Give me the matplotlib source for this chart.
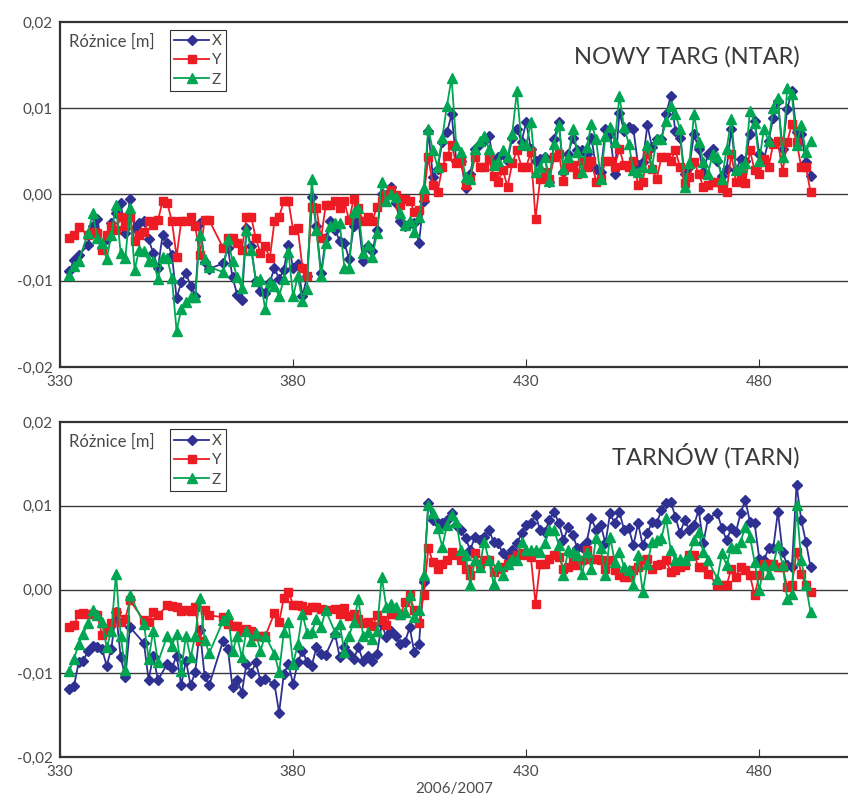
import matplotlib
matplotlib.use('Agg')
import matplotlib.pyplot as plt
from matplotlib.ticker import FuncFormatter

plt.rcParams['font.family'] = ['Lato', 'DejaVu Sans']

# dni (oś X) i różnice w mm
days_top = [332, 333, 334] + list(range(336, 363)) + list(range(365, 492))
ntar_x = [-8.9, -7.6, -7.0,
          -5.9, -3.7, -2.8, -6.2, -5.2, -3.3, -2.2, -1.0, -4.5, -0.5, -3.9, -3.3, -3.1, -5.2,
          -6.8, -8.5, -4.7, -5.6, -7.0, -12.0, -10.2, -9.1, -10.6, -11.8, -3.3, -7.8, -8.6,
          -8.0, -6.2, -9.6, -11.6, -12.2, -3.9,
          -6.0, -10.0, -11.2, -11.4, -10.2, -8.5, -9.8, -8.7, -5.8, -8.5,
          -8.1, -11.8, -9.5, -0.3, -3.7, -9.1, -5.1, -3.1, -4.1, -5.4,
          -5.6, -7.5, -3.7, -3.0, -7.7, -6.0, -6.6, -4.1, 0.1, -0.1,
          0.9, -1.0, -3.1, -3.7, -3.3, -3.3, -5.6, -0.7, 7.4, 2.0, 3.0,
          6.1, 7.2, 9.3, 3.9, 3.9, 0.7, 2.4, 5.3, 5.9, 6.2,
          6.8, 3.9, 4.3, 4.7, 3.9, 6.6, 7.6, 6.1, 8.4, 5.3,
          3.9, 4.1, 4.3, 1.5, 6.4, 8.4, 2.6, 4.7, 6.6, 5.1,
          5.1, 4.7, 6.6, 3.0, 2.6, 7.6, 7.0, 2.4, 9.5, 7.4,
          7.8, 7.6, 3.4, 3.8, 8.0, 5.5, 6.4, 6.4, 9.3, 11.4,
          7.4, 6.6, 2.4, 3.2, 7.0, 5.3, 2.6, 4.7, 5.3, 3.9,
          2.2, 3.0, 7.6, 2.8, 4.1, 3.9, 7.0, 8.5, 4.7, 4.1,
          6.2, 8.9, 10.8, 5.3, 9.9, 12.0, 7.2, 7.0, 3.8, 2.2]
ntar_y = [-5.1, -4.7, -3.8,
          -4.7, -4.3, -4.5, -6.4, -4.7, -3.7, -4.1, -2.6, -3.7, -2.6, -5.4, -4.7, -4.3, -3.1,
          -3.5, -3.0, -0.8, -1.0, -3.1, -7.2, -3.1, -3.1, -2.6, -3.7, -7.0, -3.0, -3.0,
          -6.2, -5.1, -5.1, -5.6, -6.4, -2.6,
          -2.6, -5.1, -6.8, -6.0, -7.4, -3.1, -2.6, -0.8, -0.8, -4.1,
          -3.9, -8.5, -9.5, -1.4, -1.6, -5.1, -1.2, -1.2, -0.8, -1.6,
          -0.8, -3.0, -0.5, -1.6, -3.1, -2.6, -3.1, -1.4, -0.8, -0.1,
          0.5, -0.1, -1.2, -0.5, -0.7, -2.0, -1.8, -0.3, 4.3, 1.1, 0.3,
          3.2, 4.5, 5.7, 3.6, 3.9, 1.1, 1.8, 4.3, 3.2, 3.2,
          4.1, 2.2, 1.5, 2.8, 0.9, 3.6, 5.1, 3.2, 3.2, 4.9,
          -2.8, 1.8, 2.6, 1.8, 4.3, 4.7, 1.6, 3.2, 3.4, 2.4,
          3.9, 3.2, 3.9, 1.5, 1.8, 3.9, 3.9, 3.2, 5.3, 3.4,
          3.2, 3.9, 1.1, 1.5, 4.7, 3.0, 1.8, 4.3, 4.3, 3.9,
          5.1, 3.2, 1.3, 2.0, 3.8, 2.4, 0.9, 1.1, 1.5, 1.5,
          0.7, 0.3, 4.7, 1.5, 2.2, 1.3, 5.1, 2.8, 2.4, 4.1,
          3.2, 5.9, 6.2, 2.6, 6.1, 8.2, 6.1, 3.2, 3.2, 0.3]
ntar_z = [-9.3, -8.3, -7.7,
          -4.5, -2.2, -5.1, -5.6, -7.5, -4.7, -1.2, -6.8, -7.4, -1.6, -8.7, -6.4, -6.6, -7.7,
          -7.7, -9.8, -7.2, -7.4, -9.7, -15.8, -13.3, -12.5, -11.9, -11.9, -4.7, -7.5, -8.4,
          -9.0, -5.2, -7.7, -9.6, -10.8, -4.1,
          -6.4, -10.0, -9.8, -13.3, -10.2, -10.6, -11.8, -9.8, -6.7, -11.8,
          -9.5, -12.3, -10.9, 1.8, -4.1, -9.5, -5.6, -3.7, -3.3, -3.3,
          -8.5, -8.5, -2.0, -1.6, -6.8, -5.8, -7.2, -4.5, 1.5, -0.8,
          0.1, -0.3, -2.2, -3.5, -3.1, -4.3, -2.6, 0.7, 7.6, 5.1, 3.2,
          6.6, 10.3, 13.5, 5.7, 4.9, 2.0, 1.8, 5.3, 6.2, 6.8,
          5.3, 3.4, 3.9, 5.1, 4.3, 7.0, 12.0, 5.9, 5.7, 8.4,
          2.6, 3.2, 4.3, 1.6, 5.9, 8.0, 3.0, 4.3, 7.6, 4.9,
          2.6, 5.5, 8.2, 6.4, 1.8, 6.8, 7.8, 6.1, 11.4, 7.8,
          5.9, 2.8, 2.6, 3.2, 5.7, 3.2, 6.4, 6.4, 8.5, 10.3,
          9.3, 7.6, 0.9, 3.6, 9.3, 6.1, 3.8, 2.4, 4.7, 4.3,
          1.8, 5.3, 8.7, 2.8, 3.2, 3.6, 9.7, 8.3, 3.9, 7.6,
          6.2, 10.0, 11.2, 4.3, 12.3, 11.6, 5.7, 8.0, 4.9, 6.2]

days_bot = (list(range(332, 346)) + list(range(348, 352)) + list(range(353, 363))
            + list(range(365, 375)) + list(range(376, 388)) + list(range(389, 470))
            + list(range(471, 492)))
tarn_x = [-11.9, -11.5, -8.7, -8.5, -7.3, -6.7, -6.9, -7.1, -9.1, -7.1, -2.7, -8.0, -10.5, -4.5,
          -6.4, -10.8, -7.9, -10.8,
          -8.9, -9.4, -7.9, -11.4, -8.5, -11.4, -9.9, -4.8, -10.3, -11.4,
          -6.1, -7.1, -11.7, -10.8, -12.3, -8.9, -10.0, -8.7, -10.9, -10.7,
          -11.3, -14.7, -10.1, -8.9, -11.3, -8.7, -7.3, -8.7, -9.1, -6.9, -7.7, -7.8,
          -5.3, -8.1, -6.9, -7.7, -8.3, -6.9, -8.5, -7.9, -8.5, -7.7,
          -4.1, -5.7, -4.9, -5.5, -6.5, -6.3, -4.5, -7.5, -6.5, 0.9, 10.3, 8.3, 7.9,
          7.9, 8.3, 9.1, 7.7, 7.1, 6.1, 4.7, 6.3, 5.9, 6.3,
          7.1, 5.7, 5.5, 4.3, 3.9, 4.7, 5.5, 6.7, 7.7, 7.9,
          8.9, 7.1, 6.9, 8.3, 9.3, 7.9, 5.9, 7.5, 6.5, 4.9,
          5.1, 5.7, 8.5, 7.1, 7.7, 5.5, 9.1, 7.9, 9.3, 7.1,
          7.3, 5.3, 7.9, 5.3, 6.7, 8.1, 7.9, 9.5, 10.3, 10.5,
          8.7, 6.7, 8.3, 7.1, 7.7, 9.5, 5.5, 8.5,
          9.1, 7.3, 5.9, 7.3, 6.9, 9.1, 10.7, 8.1, 7.9, 3.7,
          3.5, 4.9, 4.9, 9.3, 4.5, 2.9, 2.7, 12.5, 8.3, 5.7, 2.7]
tarn_y = [-4.5, -4.2, -2.9, -2.8, -2.9, -2.9, -3.1, -5.4, -4.7, -4.0, -2.7, -3.9, -3.5, -1.3,
          -3.7, -3.9, -2.7, -3.1,
          -1.9, -2.0, -2.1, -2.6, -2.4, -2.6, -2.1, -6.1, -2.4, -3.1,
          -3.3, -4.1, -4.4, -4.4, -4.9, -4.7, -4.9, -5.5, -5.6, -5.6,
          -2.8, -3.9, -1.0, -0.3, -1.8, -1.8, -2.0, -2.5, -2.1, -2.1, -2.3, -2.5,
          -2.3, -2.9, -2.2, -3.2, -2.9, -3.5, -4.0, -3.9, -4.4, -3.1,
          -3.6, -4.2, -2.9, -2.9, -3.1, -1.5, -0.7, -2.5, -4.0, -0.7, 4.9, 3.3, 2.4,
          3.1, 3.5, 4.5, 4.1, 3.5, 2.5, 1.7, 4.3, 3.1, 3.5,
          3.5, 2.1, 2.5, 2.7, 3.1, 3.7, 4.1, 4.3, 4.1, 3.9,
          -1.7, 3.1, 3.1, 3.7, 4.1, 3.9, 2.5, 2.7, 3.3, 2.9,
          3.5, 4.7, 3.7, 3.7, 3.5, 2.5, 3.5, 2.3, 1.7, 1.5,
          1.5, 2.3, 2.7, 3.5, 3.7, 2.5, 2.9, 3.1, 3.5, 2.1,
          2.3, 2.7, 2.9, 4.1, 4.1, 2.7, 2.7, 1.9,
          0.5, 0.5, 0.5, 2.5, 1.5, 2.7, 2.3, 1.7, -0.7, 1.7,
          3.1, 3.1, 3.1, 2.7, 2.7, 0.3, 0.5, 4.5, 1.9, 0.5, -0.3]
tarn_z = [-9.7, -8.3, -6.5, -5.3, -4.0, -2.4, -3.0, -3.9, -6.9, -5.0, 1.9, -5.5, -9.6, -0.7,
          -4.1, -8.3, -4.9, -8.7,
          -5.5, -6.7, -5.3, -9.7, -5.5, -8.1, -5.5, -1.0, -6.0, -7.6,
          -3.7, -2.9, -7.4, -5.6, -8.1, -4.9, -6.1, -5.2, -7.3, -5.5,
          -7.7, -9.9, -5.1, -3.9, -8.9, -6.5, -2.9, -5.2, -5.1, -3.5, -4.5, -2.5,
          -5.1, -4.1, -7.5, -5.5, -3.9, -1.1, -5.5, -5.1, -5.9, -4.9,
          1.5, -2.1, -1.7, -2.1, -2.9, -2.7, -0.7, -3.3, -2.5, 1.7, 10.1, 9.1, 7.3,
          5.1, 7.7, 8.9, 8.1, 4.7, 4.1, 0.5, 3.5, 2.7, 5.7,
          3.5, 0.7, 2.9, 1.7, 3.1, 3.7, 3.5, 5.7, 4.7, 4.7,
          4.7, 4.5, 5.5, 7.1, 7.1, 5.3, 1.7, 4.7, 4.5, 4.1,
          1.9, 4.5, 2.5, 6.1, 4.9, 1.7, 6.3, 3.3, 4.5, 2.7,
          2.3, 0.5, 4.1, -0.3, 3.1, 5.7, 5.9, 6.1, 8.5, 4.7,
          3.5, 3.7, 3.5, 4.1, 5.9, 6.9, 4.5, 3.5,
          1.3, 4.3, 2.9, 5.1, 4.9, 5.7, 7.5, 6.3, 3.3, -0.1,
          2.9, 1.9, 2.9, 5.3, 2.9, -1.1, -0.5, 10.1, 3.5, 0.5, -2.7]

x_ticks = [330, 380, 430, 480]
y_ticks = [-0.02, -0.01, 0.0, 0.01, 0.02]

blue = '#2E3192'
red = '#ED1C24'
green = '#00A651'
txt = '#4a4a4a'

fig = plt.figure(figsize=(8.48, 8.02), dpi=100)
ax1 = fig.add_axes([0.0708, 0.5424, 0.929, 0.4302])
ax2 = fig.add_axes([0.0708, 0.0561, 0.929, 0.4177])


def draw(ax, days, xs, ys, zs, title):
    for y in [-0.01, 0.0, 0.01]:
        ax.axhline(y, color='#3a3a3a', lw=1.0, zorder=1)
    ax.plot(days, [v / 1000 for v in xs], '-D', color=blue, lw=1.3, ms=5,
            label='X', zorder=3)
    ax.plot(days, [v / 1000 for v in ys], '-s', color=red, lw=1.3, ms=6,
            label='Y', zorder=4)
    ax.plot(days, [v / 1000 for v in zs], '-^', color=green, lw=1.3, ms=6.5,
            label='Z', zorder=5)
    ax.set_xlim(330, 499)
    ax.set_ylim(-0.02, 0.02)
    ax.set_xticks(x_ticks)
    ax.set_yticks(y_ticks)
    ax.yaxis.set_major_formatter(FuncFormatter(lambda v, p: f'{v:.2f}'.replace('.', ',')))
    ax.tick_params(axis='x', direction='in', length=6, color='#333333',
                   labelsize=11, labelcolor=txt, pad=6)
    ax.tick_params(axis='y', length=0, labelsize=11, labelcolor=txt, pad=5)
    for s in ['left', 'bottom', 'top']:
        ax.spines[s].set_color('#333333')
        ax.spines[s].set_linewidth(1.6)
    ax.spines['right'].set_visible(False)
    ax.text(0.011, 0.965, 'Różnice [m]', transform=ax.transAxes, ha='left', va='top',
            fontsize=12, color=txt)
    ax.text(0.939, 0.9, title, transform=ax.transAxes, ha='right', va='center',
            fontsize=17, color='#3a3a3a')
    leg = ax.legend(loc='upper left', bbox_to_anchor=(0.139, 0.978), fontsize=11,
                    handlelength=2.3, handletextpad=0.15, labelspacing=0.35,
                    borderpad=0.3, borderaxespad=0, fancybox=False, framealpha=1)
    leg.get_frame().set_edgecolor('#333333')
    leg.get_frame().set_linewidth(0.8)
    for t in leg.get_texts():
        t.set_color(txt)


draw(ax1, days_top, ntar_x, ntar_y, ntar_z, 'NOWY TARG (NTAR)')
draw(ax2, days_bot, tarn_x, tarn_y, tarn_z, 'TARNÓW (TARN)')
ax2.set_xlabel('2006/2007', fontsize=11, color=txt, labelpad=2)

fig.savefig('out.png', dpi=100)
